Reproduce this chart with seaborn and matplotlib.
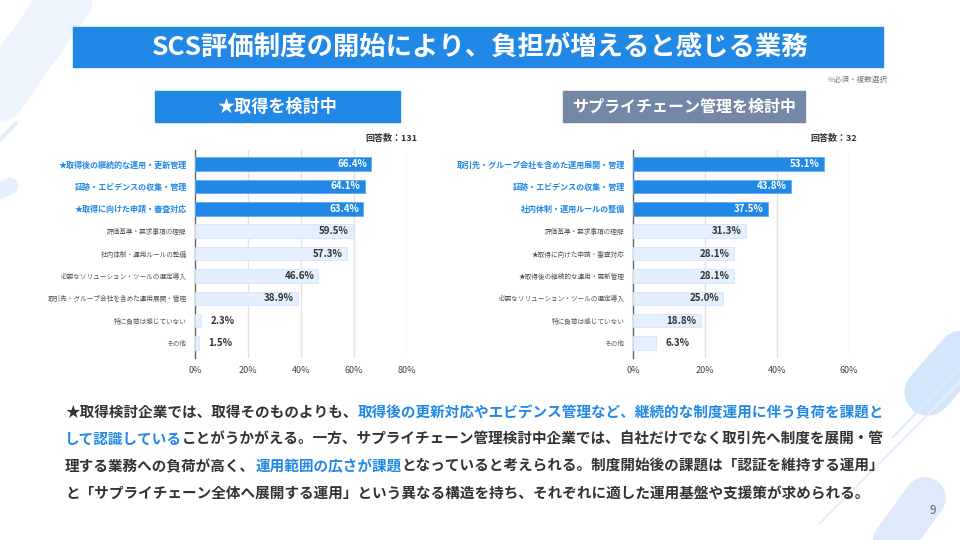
import numpy as np
import pandas as pd
import matplotlib
matplotlib.use("Agg")
import matplotlib.pyplot as plt
from matplotlib.patches import Rectangle
import seaborn as sns

# data
left_labels = ['★取得後の継続的な運用・更新管理', '証跡・エビデンスの収集・管理', '★取得に向けた申請・審査対応',
               '評価基準・要求事項の理解', '社内体制・運用ルールの整備', '必要なソリューション・ツールの選定導入',
               '取引先・グループ会社を含めた運用展開・管理', '特に負荷は感じていない', 'その他']
left_values = [66.4, 64.1, 63.4, 59.5, 57.3, 46.6, 38.9, 2.3, 1.5]
left_n = 131

right_labels = ['取引先・グループ会社を含めた運用展開・管理', '証跡・エビデンスの収集・管理', '社内体制・運用ルールの整備',
                '評価基準・要求事項の理解', '★取得に向けた申請・審査対応', '★取得後の継続的な運用・更新管理',
                '必要なソリューション・ツールの選定導入', '特に負荷は感じていない', 'その他']
right_values = [53.1, 43.8, 37.5, 31.3, 28.1, 28.1, 25.0, 18.8, 6.3]
right_n = 32

n_highlight = 3
left_ticks = [0, 20, 40, 60, 80]
right_ticks = [0, 20, 40, 60]

title = 'SCS評価制度の開始により、負担が増えると感じる業務'
note = '※必須・複数選択'
left_sub = '★取得を検討中'
right_sub = 'サプライチェーン管理を検討中'

body_lines = [
    [('★取得検討企業では、取得そのものよりも、', 'k'), ('取得後の更新対応やエビデンス管理など、継続的な制度運用に伴う負荷を課題と', 'b')],
    [('して認識している', 'b'), ('ことがうかがえる。一方、サプライチェーン管理検討中企業では、自社だけでなく取引先へ制度を展開・管', 'k')],
    [('理する業務への負荷が高く、', 'k'), ('運用範囲の広さが課題', 'b'), ('となっていると考えられる。制度開始後の課題は「認証を維持する運用」', 'k')],
    [('と「サプライチェーン全体へ展開する運用」という異なる構造を持ち、それぞれに適した運用基盤や支援策が求められる。', 'k')],
]

BLUE = '#2188E6'
LIGHT = '#E4F0FD'
GRAY_BOX = '#7487A6'
DARK = '#333333'

sns.set_theme(style='white')
plt.rcParams['font.family'] = ['Noto Sans CJK JP', 'DejaVu Sans']

W, H = 960, 540
fig = plt.figure(figsize=(9.6, 5.4), dpi=100)
fig.patch.set_facecolor('white')

# background layer in pixel coords
bg = fig.add_axes([0, 0, 1, 1], zorder=0)
bg.set_xlim(0, W)
bg.set_ylim(H, 0)
bg.axis('off')


def stripe(x0, y0, x1, y1, lw, color):
    bg.plot([x0, x1], [y0, y1], color=color, lw=lw, solid_capstyle='round', zorder=0)


# decorative stripes
stripe(-40, 150, 80, -20, 38, '#EDF4FD')
stripe(-10, 150, 16, 123, 3, '#E3EEFC')
stripe(-20, 200, 10, 186, 12, '#E6F0FC')
stripe(928, 392, 1000, 310, 34, '#D4E6FB')
stripe(893, 437, 990, 337, 1.5, '#DCEAFB')
stripe(820, 523, 990, 352, 1.5, '#E6F0FC')
stripe(880, 560, 925, 498, 30, '#DCEAFB')

# title banner
bg.add_patch(Rectangle((73, 27), 810, 40, color=BLUE, zorder=1))
bg.text(480, 47.5, title, color='white', fontsize=19, fontweight='bold', ha='center', va='center', zorder=2)
bg.text(888, 80, note, color='#777777', fontsize=5.5, ha='right', va='center')

bg.add_patch(Rectangle((155, 91), 245, 31, color=BLUE, zorder=1))
bg.text(277, 106.5, left_sub, color='white', fontsize=12.3, fontweight='bold', ha='center', va='center', zorder=2)
bg.add_patch(Rectangle((563, 91), 242, 31, color=GRAY_BOX, zorder=1))
bg.text(684, 106.5, right_sub, color='white', fontsize=11.5, fontweight='bold', ha='center', va='center', zorder=2)

bg.text(418, 138, f'回答数：{left_n}', color=DARK, fontsize=6.5, fontweight='bold', ha='right', va='center')
bg.text(857, 138, f'回答数：{right_n}', color=DARK, fontsize=6.5, fontweight='bold', ha='right', va='center')

# body text
fs_body = 10.5
y = 412
for line in body_lines:
    x = 65
    for seg, c in line:
        t = bg.text(x, y, seg, color=(BLUE if c == 'b' else DARK), fontsize=fs_body, fontweight='bold',
                    ha='left', va='center')
        fig.canvas.draw()
        x += t.get_window_extent().width
    y += 27

bg.text(933, 510, '9', color='#666666', fontsize=8.5, ha='center', va='center')


def draw_chart(rect, labels, values, xmax, ticks):
    ax = fig.add_axes(rect, zorder=2)
    df = pd.DataFrame({'label': labels, 'value': values})
    df['group'] = ['top' if i < n_highlight else 'rest' for i in range(len(df))]
    sns.barplot(data=df, y='label', x='value', hue='group', hue_order=['top', 'rest'],
                palette={'top': BLUE, 'rest': LIGHT}, dodge=False, width=0.6, saturation=1,
                legend=False, ax=ax, zorder=3)
    for p in ax.patches:
        fc = p.get_facecolor()
        p.set_edgecolor('#D2E4FB' if fc[0] > 0.8 else '#62AAEE')
        p.set_linewidth(0.6)
    ax.set_xlim(0, xmax)
    ax.set_ylim(len(labels) - 1 + 0.67, -0.63)
    ax.set_xticks(ticks)
    ax.set_xticklabels([f'{t}%' for t in ticks], fontsize=6.5, color='#444444')
    ax.tick_params(axis='x', length=0, pad=6)
    ax.tick_params(axis='y', length=0, pad=6)
    ax.set_xlabel('')
    ax.set_ylabel('')
    for s in ['top', 'right', 'bottom']:
        ax.spines[s].set_visible(False)
    ax.spines['left'].set_color('#666666')
    ax.spines['left'].set_linewidth(1)
    for t in ticks[1:]:
        ax.axvline(t, color='#E2E2E2', lw=1, zorder=0)
    ax.set_facecolor('none')
    for i, tl in enumerate(ax.get_yticklabels()):
        if i < n_highlight:
            tl.set_color(BLUE)
            tl.set_fontweight('bold')
            tl.set_fontsize(5.8)
        else:
            tl.set_color('#555555')
            tl.set_fontsize(4.8)
    px_per_unit = rect[2] * W / xmax
    for i, v in enumerate(values):
        txt = f'{v:.1f}%'
        if v * px_per_unit > 40:
            ax.annotate(txt, (v, i), xytext=(-3, 0), textcoords='offset points', ha='right', va='center',
                        fontsize=7, fontweight='bold', color=('white' if i < n_highlight else DARK), zorder=4)
        else:
            ax.annotate(txt, (v, i), xytext=(7, 0), textcoords='offset points', ha='left', va='center',
                        fontsize=7, fontweight='bold', color=DARK, zorder=4)
    return ax


draw_chart([195 / W, 1 - 358 / H, 212 / W, 208 / H], left_labels, left_values, 80, left_ticks)
draw_chart([633 / W, 1 - 358 / H, 216 / W, 208 / H], right_labels, right_values, 60, right_ticks)

fig.savefig('out.png', dpi=100)
